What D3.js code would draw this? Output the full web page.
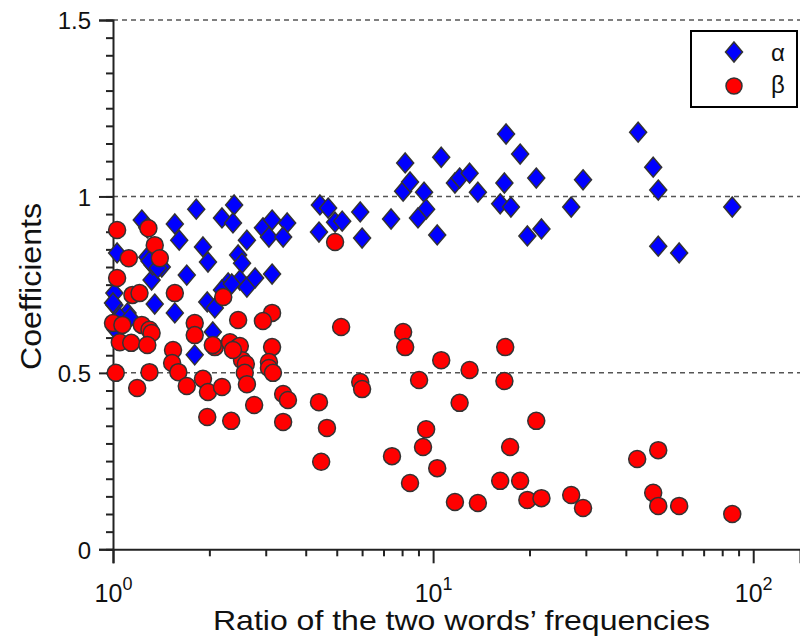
<!DOCTYPE html>
<html>
<head>
<meta charset="utf-8">
<script src="https://cdnjs.cloudflare.com/ajax/libs/d3/7.8.5/d3.min.js"></script>
<style>
  body { margin: 0; background: #fff; }
  svg { display: block; font-family: "Liberation Sans", Arial, Helvetica, sans-serif; }
</style>
</head>
<body>
<div id="area"></div>
<script>
// ratio of the two words' frequencies vs coefficient
var alphaRatio = [1.82, 2.39, 2.19, 2.37, 1.23, 1.56, 1.03, 1.28, 1.61, 1.91, 1.98, 2.62, 2.46, 2.53,
    2.94, 3.14, 3.50, 3.07, 3.40, 4.43, 4.70, 4.94, 5.20, 5.92, 7.39, 4.40, 6.00, 1.32, 1.33, 1.42,
    1.70, 3.14, 2.29, 2.49, 2.62, 2.78, 2.19, 1.97, 2.08, 1.35, 1.56, 1.01, 1.01, 1.11, 2.35, 1.05,
    1.13, 1.02, 2.05, 1.80, 1.30, 1.28, 1.00, 1.38,
    8.06, 8.18, 8.47, 9.37, 10.6, 9.51, 8.97, 10.3, 11.7, 12.1, 13.0, 13.8, 16.9, 18.7, 16.7, 16.2,
    17.5, 21.0, 19.7, 21.8, 27.0, 29.4, 43.7, 48.7, 50.5, 50.5, 58.7, 86.0];
var alphaCoef = [0.964, 0.976, 0.939, 0.925, 0.933, 0.922, 0.840, 0.828, 0.876, 0.857, 0.814, 0.876, 0.834, 0.811,
    0.911, 0.933, 0.925, 0.885, 0.885, 0.976, 0.967, 0.927, 0.930, 0.956, 0.936, 0.899, 0.882, 0.763, 0.806, 0.800,
    0.777, 0.780, 0.755, 0.763, 0.743, 0.769, 0.735, 0.701, 0.684, 0.695, 0.670, 0.726, 0.692, 0.670, 0.752, 0.656,
    0.656, 0.622, 0.616, 0.551, 0.817, 0.911, 0.698, 0.797,
    1.015, 1.095, 1.041, 1.012, 1.111, 0.964, 0.939, 0.891, 1.038, 1.052, 1.066, 1.012, 1.177, 1.120, 1.038, 0.979,
    0.970, 1.052, 0.888, 0.908, 0.970, 1.047, 1.182, 1.083, 1.018, 0.859, 0.840, 0.970];

var betaRatio = [1.03, 1.29, 1.35, 1.40, 1.12, 1.03, 1.15, 1.21, 1.56, 2.21, 1.00, 1.07, 1.05, 1.14,
    1.23, 1.30, 1.32, 1.28, 1.80, 1.80, 1.54, 1.53, 1.60, 1.70, 1.91, 1.98, 2.19, 2.08, 2.32, 1.02,
    1.30, 1.19, 1.97, 2.34, 2.46, 2.46, 3.14, 2.94, 2.49, 3.14, 2.53, 2.60, 3.07, 3.07, 3.16, 2.58,
    2.62, 3.40, 3.52, 2.76, 3.40, 4.40, 4.66, 4.47, 4.94, 5.16, 5.92, 6.00, 7.44, 8.06, 8.18, 2.37,
    2.05, 16.8, 10.6, 13.0, 9.04, 16.7, 12.1, 21.0, 9.51, 9.30, 17.4, 10.3, 8.47, 16.2, 18.7, 43.4,
    50.5, 11.7, 13.8, 19.7, 21.8, 27.0, 29.4, 48.7, 50.5, 58.7, 86.0];
var betaCoef = [0.905, 0.910, 0.862, 0.825, 0.825, 0.769, 0.721, 0.726, 0.726, 0.715, 0.641, 0.636, 0.587, 0.585,
    0.636, 0.622, 0.613, 0.579, 0.641, 0.607, 0.565, 0.528, 0.502, 0.463, 0.483, 0.446, 0.460, 0.573, 0.587, 0.500,
    0.502, 0.457, 0.375, 0.364, 0.573, 0.650, 0.670, 0.647, 0.576, 0.573, 0.536, 0.525, 0.531, 0.514, 0.500, 0.500,
    0.468, 0.440, 0.423, 0.409, 0.361, 0.417, 0.344, 0.248, 0.871, 0.630, 0.474, 0.454, 0.264, 0.616, 0.573, 0.565,
    0.579, 0.573, 0.536, 0.508, 0.480, 0.477, 0.415, 0.364, 0.340, 0.290, 0.290, 0.230, 0.188, 0.194, 0.194, 0.256,
    0.281, 0.134, 0.131, 0.140, 0.145, 0.154, 0.117, 0.160, 0.123, 0.123, 0.100];

var yMajor = [0, 0.5, 1, 1.5],
    yTickLabels = ['0', '0.5', '1', '1.5'],
    xMajor = [1, 10, 100],
    xTickExp = ['0', '1', '2'],
    xTitle = 'Ratio of the two words\u2019 frequencies',
    yTitle = 'Coefficients',
    legendLabels = ['\u03b1', '\u03b2'];

var width = 800, height = 641;
var margin = {left: 113, top: 20, right: 0, bottom: 641 - 549.3};

var alpha_color = '#0000ff',
    beta_color = '#ff0000',
    edge_color = '#333333',
    axis_color = '#222222';

var svg = d3.select('#area').append('svg')
    .attr('width', width)
    .attr('height', height);

var x = d3.scaleLog().domain([1, 140]).range([margin.left, width - margin.right]);
var y = d3.scaleLinear().domain([0, 1.5]).range([height - margin.bottom, margin.top]);

// dashed grid lines
svg.append('g').selectAll('line')
    .data(yMajor.filter(function(d) { return d > 0; }))
    .enter().append('line')
    .attr('x1', x.range()[0]).attr('x2', x.range()[1])
    .attr('y1', function(d) { return y(d); })
    .attr('y2', function(d) { return y(d); })
    .attr('stroke', '#555')
    .attr('stroke-width', 1.5)
    .attr('stroke-dasharray', '5,4');

// y axis: minor + major
var yMinorVals = d3.range(0, 31).map(function(i) { return i * 0.05; });
svg.append('g')
    .attr('transform', 'translate(' + margin.left + ',0)')
    .call(d3.axisLeft(y).tickValues(yMinorVals).tickSize(7).tickFormat(''))
    .call(function(g) { g.select('.domain').remove(); });

var yAxis = svg.append('g')
    .attr('transform', 'translate(' + margin.left + ',0)')
    .call(d3.axisLeft(y).tickValues(yMajor).tickSize(14).tickPadding(8)
        .tickFormat(function(d, i) { return yTickLabels[i]; }));
yAxis.selectAll('text').attr('font-size', 24).attr('fill', '#111').attr('dy', '0.37em');

// x axis: minor + major
var xMinorVals = [];
[1, 10, 100].forEach(function(b) {
    for (var k = 2; k <= 9; k++) if (b * k <= 140) xMinorVals.push(b * k);
});
svg.append('g')
    .attr('transform', 'translate(0,' + y(0) + ')')
    .call(d3.axisBottom(x).tickValues(xMinorVals).tickSize(7).tickFormat(''))
    .call(function(g) { g.select('.domain').remove(); });

var xAxis = svg.append('g')
    .attr('transform', 'translate(0,' + y(0) + ')')
    .call(d3.axisBottom(x).tickValues(xMajor).tickSize(14).tickFormat(''));
xAxis.selectAll('.tick text').each(function(d, i) {
    var t = d3.select(this).attr('y', 53).attr('dy', null).attr('font-size', 25).attr('fill', '#111');
    t.append('tspan').text('10');
    t.append('tspan').attr('font-size', 18).attr('dy', -12).text(xTickExp[i]);
});

svg.selectAll('.domain, .tick line').attr('stroke', axis_color).attr('stroke-width', 2);

// titles
svg.append('text')
    .attr('x', 213).attr('y', 630)
    .attr('font-size', 28)
    .attr('textLength', 497)
    .attr('lengthAdjust', 'spacingAndGlyphs')
    .attr('fill', '#111')
    .text(xTitle);

svg.append('text')
    .attr('transform', 'translate(41,370) rotate(-90)')
    .attr('font-size', 29)
    .attr('textLength', 167)
    .attr('lengthAdjust', 'spacingAndGlyphs')
    .attr('fill', '#111')
    .text(yTitle);

// markers
var diamond = function(cx, cy) {
    return 'M' + cx + ',' + (cy - 10) + 'L' + (cx + 8.5) + ',' + cy + 'L' + cx + ',' + (cy + 10) +
        'L' + (cx - 8.5) + ',' + cy + 'Z';
};

svg.append('g').selectAll('path')
    .data(d3.range(alphaRatio.length))
    .enter().append('path')
    .attr('d', function(i) { return diamond(x(alphaRatio[i]), y(alphaCoef[i])); })
    .attr('fill', alpha_color)
    .attr('stroke', edge_color)
    .attr('stroke-width', 1.5);

svg.append('g').selectAll('circle')
    .data(d3.range(betaRatio.length))
    .enter().append('circle')
    .attr('cx', function(i) { return x(betaRatio[i]); })
    .attr('cy', function(i) { return y(betaCoef[i]); })
    .attr('r', 8.5)
    .attr('fill', beta_color)
    .attr('stroke', edge_color)
    .attr('stroke-width', 1.5);

// legend
var legend = svg.append('g');
legend.append('rect')
    .attr('x', 691).attr('y', 31).attr('width', 106).attr('height', 76)
    .attr('fill', '#fff').attr('stroke', '#000').attr('stroke-width', 2);
legend.append('path')
    .attr('d', diamond(734, 52))
    .attr('fill', alpha_color).attr('stroke', edge_color).attr('stroke-width', 1.5);
legend.append('circle')
    .attr('cx', 734).attr('cy', 86).attr('r', 8)
    .attr('fill', beta_color).attr('stroke', edge_color).attr('stroke-width', 1.5);
legend.selectAll('text.lbl')
    .data(legendLabels)
    .enter().append('text')
    .attr('class', 'lbl')
    .attr('x', 771)
    .attr('y', function(d, i) { return i == 0 ? 61 : 93; })
    .attr('font-size', 24)
    .attr('fill', '#111')
    .text(function(d) { return d; });
</script>
</body>
</html>
